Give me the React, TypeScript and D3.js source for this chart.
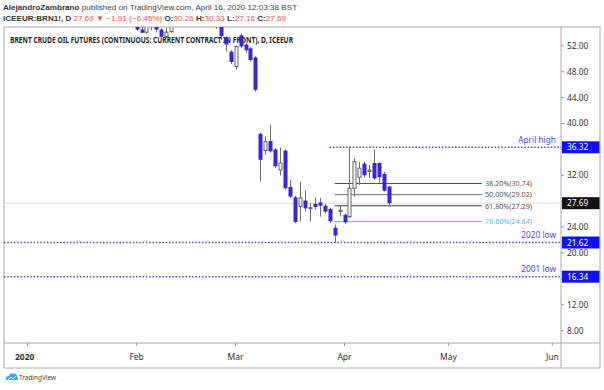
import { scaleLinear, utcDay, utcFormat } from "d3";
import type { ReactElement } from "react";

// visible daily candles, Brent front month
const candleDates = [
  "2020-02-03", "2020-02-04", "2020-02-05", "2020-02-06", "2020-02-07", "2020-02-10", "2020-02-11", "2020-02-12",
  "2020-02-25", "2020-02-26", "2020-02-27", "2020-02-28", "2020-03-02", "2020-03-03", "2020-03-04", "2020-03-05",
  "2020-03-06", "2020-03-09", "2020-03-10", "2020-03-11", "2020-03-12", "2020-03-13", "2020-03-16", "2020-03-17",
  "2020-03-18", "2020-03-19", "2020-03-20", "2020-03-23", "2020-03-24", "2020-03-25", "2020-03-26", "2020-03-27",
  "2020-03-30", "2020-03-31", "2020-04-01", "2020-04-02", "2020-04-03", "2020-04-06", "2020-04-07", "2020-04-08",
  "2020-04-09", "2020-04-13", "2020-04-14", "2020-04-15",
];
const opens = [
  56.5, 54.5, 54.1, 55.3, 55.0, 54.5, 53.4, 54.2,
  56.3, 55.0, 53.3, 51.1, 48.8, 53.6, 52.2, 51.6,
  50.2, 38.4, 35.8, 37.3, 36.0, 32.8, 35.8, 30.2,
  28.6, 27.2, 28.1, 26.9, 27.6, 27.8, 27.3, 26.8,
  23.9, 26.4, 25.9, 25.6, 30.0, 31.7, 33.8, 32.6,
  33.9, 33.9, 32.2, 30.26,
];
const highs = [
  56.9, 55.0, 55.6, 56.0, 55.3, 54.7, 54.8, 56.0,
  56.6, 55.3, 53.5, 51.3, 52.0, 53.9, 52.4, 51.8,
  50.4, 38.6, 38.0, 39.8, 36.2, 36.3, 36.0, 31.3,
  28.8, 31.0, 29.6, 27.7, 28.6, 28.5, 27.6, 27.0,
  24.4, 27.4, 26.1, 36.32, 34.6, 34.1, 34.1, 33.6,
  36.0, 34.0, 32.5, 30.33,
];
const lows = [
  54.3, 53.9, 53.9, 54.4, 54.1, 53.2, 53.2, 54.0,
  54.6, 52.9, 51.1, 49.2, 48.3, 51.7, 50.9, 49.6,
  44.9, 31.0, 35.2, 35.5, 33.1, 32.0, 29.8, 28.5,
  24.6, 24.9, 26.4, 24.9, 26.7, 25.6, 26.1, 24.6,
  21.62, 25.7, 24.5, 25.4, 28.7, 30.5, 31.7, 31.6,
  31.3, 30.9, 29.5, 27.16,
];
const closes = [
  54.5, 54.0, 55.3, 54.9, 54.5, 53.4, 54.1, 55.8,
  55.0, 53.5, 52.2, 49.5, 51.9, 51.9, 51.3, 49.8,
  45.2, 34.4, 37.2, 35.7, 33.4, 33.9, 30.0, 28.7,
  24.8, 28.5, 26.9, 27.0, 27.1, 27.3, 26.4, 24.9,
  22.7, 26.6, 24.74, 30.0, 34.1, 33.1, 32.0, 32.8,
  31.5, 31.7, 29.6, 27.69,
];

const holidays = ["2020-01-01", "2020-04-10"];

const monthKeys = ["2020-01", "2020-02", "2020-03", "2020-04", "2020-05", "2020-06"];
const monthLabels = ["2020", "Feb", "Mar", "Apr", "May", "Jun"];

const priceTicks = [52, 48, 44, 40, 36, 32, 28, 24, 20, 16, 12, 8];

const levelLabels = ["April high", "2020 low", "2001 low"];
const levelValues = [36.32, 21.62, 16.34];
const levelStarts = ["2020-03-27", null, null];

const fibPercents = ["38.20%", "50.00%", "61.80%", "78.60%"];
const fibValues = [30.74, 29.02, 27.29, 24.84];
const fibColors = ["#4a4a4a", "#8a8a8a", "#3a3a3a", "#62b4d8"];
const fibStart = "2020-03-30";

const lastPrice = 27.69;

const FONT = "'Noto Sans', 'DejaVu Sans', sans-serif";
const NARROW = "'Liberation Sans', Arial, sans-serif";
const BLUE = "#3b24d8";
const LEVEL_BLUE = "#4b4be6";
const TAG_BLUE = "#1010f5";
const RED = "#e8524a";

const fmtDay = utcFormat("%Y-%m-%d");

export default function App(): ReactElement {
  const width = 604;
  const height = 390;
  const plot = { left: 4, right: 561, top: 27, bottom: 343 } as const;
  const axisRight = 600;
  const frameBottom = 368;

  // trading days incl. projected weekdays after the last bar
  const days = utcDay
    .range(new Date(Date.UTC(2020, 0, 1)), new Date(Date.UTC(2020, 5, 6)))
    .filter((d) => d.getUTCDay() !== 0 && d.getUTCDay() !== 6)
    .map((d) => fmtDay(d))
    .filter((d) => !holidays.includes(d));
  const indexOf = new Map(days.map((d, i) => [d, i] as const));

  const x = scaleLinear().domain([0, 1]).range([27.7, 32.65]);
  const y = scaleLinear().domain([54.9, 6.1]).range([plot.top, plot.bottom]);
  const bodyW = 3;

  const xOf = (date: string): number => x(indexOf.get(date) ?? 0);

  // price labels hidden under the tags are not drawn
  const tagYs = [...levelValues, lastPrice].map((v) => y(v));
  const visibleTicks = priceTicks.filter((t) => tagYs.every((ty) => Math.abs(y(t) - ty) > 9));

  return (
    <svg width={width} height={height} viewBox={`0 0 ${width} ${height}`} style={{ display: "block", position: "absolute", left: 0, top: 0 }} fontFamily={FONT}>
      <rect x={0} y={0} width={width} height={height} fill="#ffffff" />
      <defs>
        <clipPath id="plot-clip">
          <rect x={plot.left} y={plot.top} width={plot.right - plot.left} height={plot.bottom - plot.top} />
        </clipPath>
      </defs>

      {/* header */}
      <text x={3} y={10} fontSize={8.1} fill="#444" fontFamily={NARROW}>
        <tspan fontWeight="bold" fill="#333">AlejandroZambrano</tspan>
        <tspan> published on TradingView.com, April 16, 2020 12:03:38 BST</tspan>
      </text>
      <text x={3} y={20.5} fontSize={8.1} fill="#333" fontFamily={NARROW}>
        <tspan fontWeight="bold">ICEEUR:BRN1!, D </tspan>
        <tspan fill={RED}>27.69 ▼ −1.91 (−6.45%) </tspan>
        <tspan fontWeight="bold">O:</tspan>
        <tspan fill={RED}>30.26 </tspan>
        <tspan fontWeight="bold">H:</tspan>
        <tspan fill={RED}>30.33 </tspan>
        <tspan fontWeight="bold">L:</tspan>
        <tspan fill={RED}>27.16 </tspan>
        <tspan fontWeight="bold">C:</tspan>
        <tspan fill={RED}>27.69</tspan>
      </text>

      {/* frame */}
      <rect x={plot.left} y={plot.top} width={axisRight - plot.left} height={frameBottom - plot.top} fill="none" stroke="#aaa" strokeWidth={1} />
      <line x1={plot.right} x2={plot.right} y1={plot.top} y2={frameBottom} stroke="#aaa" />
      <line x1={plot.left} x2={axisRight} y1={plot.bottom} y2={plot.bottom} stroke="#aaa" />

      <text x={10} y={43} fontSize={8.4} fontWeight="bold" fill="#1e1e1e" textLength={283} lengthAdjust="spacingAndGlyphs">
        BRENT CRUDE OIL FUTURES (CONTINUOUS: CURRENT CONTRACT IN FRONT), D, ICEEUR
      </text>

      <g clipPath="url(#plot-clip)">
        {/* last price line */}
        <line x1={plot.left} x2={plot.right} y1={y(lastPrice)} y2={y(lastPrice)} stroke="#dcdcdc" strokeWidth={1} />

        {/* fib retracement */}
        {fibValues.map((v, i) => (
          <g key={`fib-${i}`}>
            <line x1={xOf(fibStart)} x2={482} y1={y(v)} y2={y(v)} stroke={fibColors[i]} strokeWidth={i === 1 ? 1.4 : 1} />
            <text x={485} y={y(v) + 2.8} fontSize={7.5} fill={i === 3 ? fibColors[3] : "#555"} textLength={47} lengthAdjust="spacingAndGlyphs">
              {`${fibPercents[i]}(${v.toFixed(2)})`}
            </text>
          </g>
        ))}

        {/* dotted levels */}
        {levelValues.map((v, i) => {
          const start = levelStarts[i];
          return (
            <g key={`lvl-${i}`}>
              <line x1={start === null ? plot.left : xOf(start)} x2={plot.right} y1={y(v)} y2={y(v)} stroke={LEVEL_BLUE} strokeWidth={1.5} strokeDasharray="1.5 1.8" />
              <text x={556} y={y(v) - 4.5} fontSize={8.3} fill={LEVEL_BLUE} textAnchor="end">
                {levelLabels[i]}
              </text>
            </g>
          );
        })}

        {/* candles */}
        {candleDates.map((d, i) => {
          const cx = Math.round(xOf(d)) + 0.5;
          const o = opens[i];
          const c = closes[i];
          const up = c >= o;
          const top = y(Math.max(o, c));
          const bot = y(Math.min(o, c));
          return (
            <g key={d}>
              <line x1={cx} x2={cx} y1={y(highs[i])} y2={y(lows[i])} stroke="#6e6e6e" strokeWidth={1} />
              {up ? (
                <rect x={cx - bodyW / 2} y={top} width={bodyW} height={Math.max(1, bot - top)} fill="#ffffff" stroke="#555" strokeWidth={0.9} />
              ) : (
                <rect x={cx - bodyW / 2 - 0.5} y={top} width={bodyW + 1} height={Math.max(1, bot - top)} fill={BLUE} />
              )}
            </g>
          );
        })}
      </g>

      {/* price axis */}
      {priceTicks.map((t) => (
        <line key={`pt-${t}`} x1={plot.right} x2={plot.right + 3} y1={y(t)} y2={y(t)} stroke="#999" />
      ))}
      {visibleTicks.map((t) => (
        <text key={`p-${t}`} x={567} y={y(t) + 3} fontSize={8.3} fill="#333">
          {t.toFixed(2)}
        </text>
      ))}
      {levelValues.map((v, i) => (
        <g key={`tag-${i}`}>
          <rect x={plot.right + 1} y={y(v) - 6} width={axisRight - plot.right - 1.5} height={12} fill={TAG_BLUE} />
          <text x={567} y={y(v) + 3} fontSize={8.3} fill="#ffffff">
            {v.toFixed(2)}
          </text>
        </g>
      ))}
      <rect x={plot.right + 1} y={y(lastPrice) - 6} width={axisRight - plot.right - 1.5} height={12} fill="#111" />
      <text x={567} y={y(lastPrice) + 3} fontSize={8.3} fill="#ffffff">
        {lastPrice.toFixed(2)}
      </text>

      {/* time axis */}
      {monthKeys.map((k, i) => {
        const first = days.find((d) => d.startsWith(k));
        if (first === undefined) return null;
        const tx = xOf(first);
        return (
          <g key={k}>
            <line x1={tx} x2={tx} y1={plot.bottom} y2={plot.bottom + 3} stroke="#999" />
            <text x={i === 0 ? tx - 3 : tx} y={359.5} fontSize={8.5} textAnchor="middle" fill="#333" fontWeight={i === 0 ? "bold" : "normal"}>
              {monthLabels[i]}
            </text>
          </g>
        );
      })}

      {/* TradingView mark */}
      <g transform="translate(5,372)">
        <path d="M1 8 Q0 4 4 4 Q5 0 9 2 Q12 1 12 5 Q14 6 13 8 Z" fill="#3ea6e8" />
        <path d="M3 8 L6 5 L8 7 L11 4" fill="none" stroke="#ffffff" strokeWidth={1} />
      </g>
      <text x={19} y={380} fontSize={7.5} fill="#444" textLength={37} lengthAdjust="spacingAndGlyphs">
        TradingView
      </text>
    </svg>
  );
}
